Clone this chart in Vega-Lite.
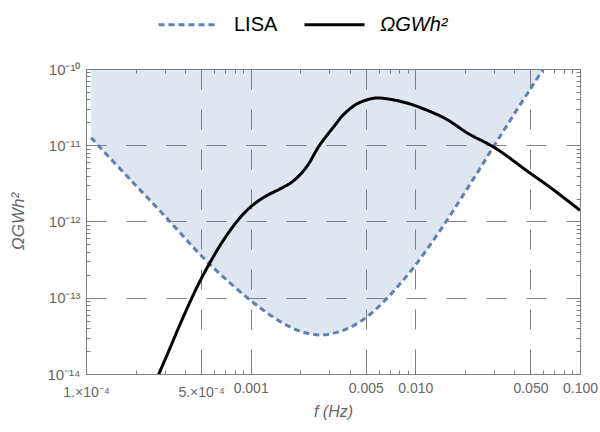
{
  "$schema": "https://vega.github.io/schema/vega-lite/v6.json",
  "width": 494,
  "height": 305,
  "autosize": {"type": "none"},
  "padding": {"left": 86, "top": 69, "right": 20, "bottom": 58},
  "config": {
    "view": {"stroke": "#808080", "strokeWidth": 1},
    "axis": {
      "domain": false,
      "labelFont": "Liberation Sans",
      "labelFontSize": 14,
      "labelColor": "#666666",
      "tickColor": "#808080",
      "tickWidth": 1,
      "gridColor": "#808080",
      "gridDash": [20, 20],
      "gridWidth": 1,
      "titleFont": "Liberation Sans",
      "titleFontSize": 16,
      "titleColor": "#666666",
      "titleFontWeight": "normal",
      "titleFontStyle": "italic"
    },
    "legend": {
      "symbolType": "stroke",
      "symbolSize": 3600,
      "symbolStrokeWidth": 3,
      "labelFont": "Liberation Sans",
      "labelFontSize": 20,
      "labelColor": "#000000",
      "labelOffset": 14,
      "columnPadding": 20,
      "padding": 0
    }
  },
  "data": {
    "values": [
      {"series": "LISA", "f": 0.00010755, "omega": 1.257e-11},
      {"series": "LISA", "f": 0.0001208, "omega": 9.51e-12},
      {"series": "LISA", "f": 0.0001924, "omega": 3.27e-12},
      {"series": "LISA", "f": 0.0003069, "omega": 1.128e-12},
      {"series": "LISA", "f": 0.0004888, "omega": 3.765e-13},
      {"series": "LISA", "f": 0.000677, "omega": 1.901e-13},
      {"series": "LISA", "f": 0.001007, "omega": 9.09e-14},
      {"series": "LISA", "f": 0.001213, "omega": 6.68e-14},
      {"series": "LISA", "f": 0.001496, "omega": 4.934e-14},
      {"series": "LISA", "f": 0.001827, "omega": 3.935e-14},
      {"series": "LISA", "f": 0.002173, "omega": 3.455e-14},
      {"series": "LISA", "f": 0.002617, "omega": 3.252e-14},
      {"series": "LISA", "f": 0.00315, "omega": 3.402e-14},
      {"series": "LISA", "f": 0.0038, "omega": 3.876e-14},
      {"series": "LISA", "f": 0.004577, "omega": 4.788e-14},
      {"series": "LISA", "f": 0.005512, "omega": 6.48e-14},
      {"series": "LISA", "f": 0.006647, "omega": 9.6e-14},
      {"series": "LISA", "f": 0.008009, "omega": 1.488e-13},
      {"series": "LISA", "f": 0.009643, "omega": 2.414e-13},
      {"series": "LISA", "f": 0.01163, "omega": 4.16e-13},
      {"series": "LISA", "f": 0.014, "omega": 7.39e-13},
      {"series": "LISA", "f": 0.01687, "omega": 1.353e-12},
      {"series": "LISA", "f": 0.02034, "omega": 2.552e-12},
      {"series": "LISA", "f": 0.0245, "omega": 4.818e-12},
      {"series": "LISA", "f": 0.02951, "omega": 9.23e-12},
      {"series": "LISA", "f": 0.03558, "omega": 1.742e-11},
      {"series": "LISA", "f": 0.04286, "omega": 3.286e-11},
      {"series": "LISA", "f": 0.05162, "omega": 6.108e-11},
      {"series": "LISA", "f": 0.05995, "omega": 1e-10},
      {"series": "ΩGWh²", "f": 0.0002594, "omega": 7.14e-15},
      {"series": "ΩGWh²", "f": 0.000278, "omega": 1.02e-14},
      {"series": "ΩGWh²", "f": 0.00032, "omega": 2.06e-14},
      {"series": "ΩGWh²", "f": 0.000367, "omega": 4.16e-14},
      {"series": "ΩGWh²", "f": 0.000425, "omega": 8.51e-14},
      {"series": "ΩGWh²", "f": 0.0004888, "omega": 1.605e-13},
      {"series": "ΩGWh²", "f": 0.0005756, "omega": 3.075e-13},
      {"series": "ΩGWh²", "f": 0.000673, "omega": 5.41e-13},
      {"series": "ΩGWh²", "f": 0.000825, "omega": 1.0e-12},
      {"series": "ΩGWh²", "f": 0.000983, "omega": 1.504e-12},
      {"series": "ΩGWh²", "f": 0.001184, "omega": 2.035e-12},
      {"series": "ΩGWh²", "f": 0.001566, "omega": 2.796e-12},
      {"series": "ΩGWh²", "f": 0.001801, "omega": 3.353e-12},
      {"series": "ΩGWh²", "f": 0.002173, "omega": 5.118e-12},
      {"series": "ΩGWh²", "f": 0.002617, "omega": 9.95e-12},
      {"series": "ΩGWh²", "f": 0.003304, "omega": 1.919e-11},
      {"series": "ΩGWh²", "f": 0.003624, "omega": 2.466e-11},
      {"series": "ΩGWh²", "f": 0.004371, "omega": 3.439e-11},
      {"series": "ΩGWh²", "f": 0.005263, "omega": 4.024e-11},
      {"series": "ΩGWh²", "f": 0.00585, "omega": 4.17e-11},
      {"series": "ΩGWh²", "f": 0.00721, "omega": 3.97e-11},
      {"series": "ΩGWh²", "f": 0.00889, "omega": 3.58e-11},
      {"series": "ΩGWh²", "f": 0.01047, "omega": 3.18e-11},
      {"series": "ΩGWh²", "f": 0.0152, "omega": 2.24e-11},
      {"series": "ΩGWh²", "f": 0.021, "omega": 1.42e-11},
      {"series": "ΩGWh²", "f": 0.0305, "omega": 9.23e-12},
      {"series": "ΩGWh²", "f": 0.0486, "omega": 4.47e-12},
      {"series": "ΩGWh²", "f": 0.0673, "omega": 2.71e-12},
      {"series": "ΩGWh²", "f": 0.1, "omega": 1.4e-12}
    ]
  },
  "layer": [
    {
      "transform": [{"filter": "datum.series === 'LISA'"}],
      "mark": {"type": "area", "color": "#5E81B5", "opacity": 0.2, "clip": true, "interpolate": "catmull-rom"},
      "encoding": {
        "x": {
          "field": "f",
          "type": "quantitative",
          "scale": {"type": "log", "domain": [0.0001, 0.1], "nice": false},
          "axis": {
            "orient": "bottom",
            "values": [0.0001,0.0002,0.0003,0.0004,0.0005,0.0006,0.0007,0.0008,0.0009,0.001,0.002,0.003,0.004,0.005,0.006,0.007,0.008,0.009,0.01,0.02,0.03,0.04,0.05,0.06,0.07,0.08,0.09,0.1],
            "labelExpr": "datum.value === 0.0001 ? '1.×10⁻⁴' : datum.value === 0.0005 ? '5.×10⁻⁴' : datum.value === 0.001 ? '0.001' : datum.value === 0.005 ? '0.005' : datum.value === 0.01 ? '0.010' : datum.value === 0.05 ? '0.050' : datum.value === 0.1 ? '0.100' : ''",
            "tickSize": {"condition": {"test": "indexof([0.0001,0.0005,0.001,0.005,0.01,0.05,0.1], datum.value) >= 0", "value": -7}, "value": -4},
            "gridOpacity": {"condition": {"test": "indexof([0.0005,0.001,0.005,0.01,0.05], datum.value) >= 0", "value": 1}, "value": 0},
            "labelPadding": {"condition": {"test": "datum.value === 0.0001 || datum.value === 0.0005", "value": 18}, "value": 14},
            "labelOverlap": false,
            "labelFlush": false,
            "title": "f (Hz)",
            "titleY": 37,
            "titleBaseline": "middle"
          }
        },
        "y": {
          "field": "omega",
          "type": "quantitative",
          "scale": {"type": "log", "domain": [1e-14, 1e-10], "nice": false},
          "axis": {
            "orient": "left",
            "values": [1e-14,2e-14,3e-14,4e-14,5e-14,6e-14,7e-14,8e-14,9e-14,1e-13,2e-13,3e-13,4e-13,5e-13,6e-13,7e-13,8e-13,9e-13,1e-12,2e-12,3e-12,4e-12,5e-12,6e-12,7e-12,8e-12,9e-12,1e-11,2e-11,3e-11,4e-11,5e-11,6e-11,7e-11,8e-11,9e-11,1e-10],
            "labelExpr": "indexof([1e-14,1e-13,1e-12,1e-11,1e-10], datum.value) >= 0 ? '10' + ['⁻¹⁴','⁻¹³','⁻¹²','⁻¹¹','⁻¹⁰'][indexof([1e-14,1e-13,1e-12,1e-11,1e-10], datum.value)] : ''",
            "tickSize": {"condition": {"test": "indexof([1e-14,1e-13,1e-12,1e-11,1e-10], datum.value) >= 0", "value": -7}, "value": -4},
            "gridOpacity": {"condition": {"test": "indexof([1e-13,1e-12,1e-11], datum.value) >= 0", "value": 1}, "value": 0},
            "labelPadding": 13,
            "labelFontSize": 15,
            "labelOverlap": false,
            "labelFlush": false,
            "title": "ΩGWh²",
            "titleFontSize": 17,
            "titleX": -68,
            "titleY": 152,
            "titleAngle": 270,
            "titleBaseline": "middle"
          }
        },
        "y2": {"datum": 1e-10}
      }
    },
    {
      "mark": {"type": "line", "clip": true, "strokeWidth": 3, "interpolate": "catmull-rom"},
      "encoding": {
        "x": {
          "field": "f",
          "type": "quantitative",
          "axis": {
            "orient": "top",
            "values": [0.0001,0.0002,0.0003,0.0004,0.0005,0.0006,0.0007,0.0008,0.0009,0.001,0.002,0.003,0.004,0.005,0.006,0.007,0.008,0.009,0.01,0.02,0.03,0.04,0.05,0.06,0.07,0.08,0.09,0.1],
            "labels": false,
            "grid": false,
            "title": null,
            "tickSize": {"condition": {"test": "indexof([0.0001,0.0005,0.001,0.005,0.01,0.05,0.1], datum.value) >= 0", "value": -7}, "value": -4}
          }
        },
        "y": {
          "field": "omega",
          "type": "quantitative",
          "axis": {
            "orient": "right",
            "values": [1e-14,2e-14,3e-14,4e-14,5e-14,6e-14,7e-14,8e-14,9e-14,1e-13,2e-13,3e-13,4e-13,5e-13,6e-13,7e-13,8e-13,9e-13,1e-12,2e-12,3e-12,4e-12,5e-12,6e-12,7e-12,8e-12,9e-12,1e-11,2e-11,3e-11,4e-11,5e-11,6e-11,7e-11,8e-11,9e-11,1e-10],
            "labels": false,
            "grid": false,
            "title": null,
            "tickSize": {"condition": {"test": "indexof([1e-14,1e-13,1e-12,1e-11,1e-10], datum.value) >= 0", "value": -7}, "value": -4}
          }
        },
        "color": {
          "field": "series",
          "type": "nominal",
          "scale": {"domain": ["LISA", "ΩGWh²"], "range": ["#5E81B5", "#000000"]},
          "legend": {
            "title": null,
            "orient": "none",
            "legendX": 71,
            "legendY": -76,
            "direction": "horizontal",
            "encode": {"labels": {"update": {"fontStyle": {"signal": "datum.label === 'LISA' ? 'normal' : 'italic'"}}}}
          }
        },
        "strokeDash": {
          "field": "series",
          "type": "nominal",
          "scale": {"domain": ["LISA", "ΩGWh²"], "range": [[6, 4], [1, 0]]},
          "legend": {
            "title": null,
            "orient": "none",
            "legendX": 71,
            "legendY": -76,
            "direction": "horizontal",
            "encode": {"labels": {"update": {"fontStyle": {"signal": "datum.label === 'LISA' ? 'normal' : 'italic'"}}}}
          }
        }
      }
    }
  ],
  "resolve": {"axis": {"x": "independent", "y": "independent"}}
}
